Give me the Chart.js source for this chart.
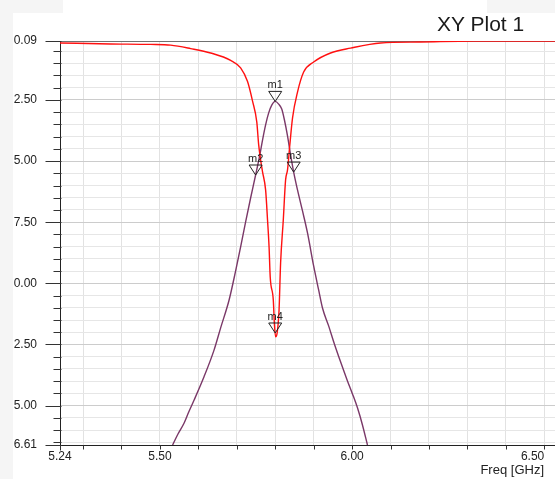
<!DOCTYPE html>
<html>
<head>
<meta charset="utf-8">
<script src="https://cdn.jsdelivr.net/npm/chart.js@4/dist/chart.umd.min.js"></script>
<style>
  html, body { margin: 0; padding: 0; background: #fff; }
  #wrap { position: relative; width: 555px; height: 479px; overflow: hidden; background: #fff; }
  .shade { position: absolute; background: #f5f5f5; }
  #plot-title {
    position: absolute; left: 437px; top: 13px;
    font: 21px/21px "Liberation Sans", Arial, sans-serif; color: #1a1a1a; white-space: nowrap;
  }
  #x-title {
    position: absolute; right: 11px; top: 463px;
    font: 13px/13px "Liberation Sans", Arial, sans-serif; color: #222; white-space: nowrap;
  }
  canvas { position: absolute; left: 0; top: 0; }
</style>
</head>
<body>
<div id="wrap">
  <div class="shade" style="left:0;top:0;width:13px;height:479px"></div>
  <div class="shade" style="left:0;top:0;width:63px;height:13px"></div>
  <div class="shade" style="left:487px;top:0;width:68px;height:13px"></div>
  <canvas id="xyPlot" width="555" height="479"></canvas>
  <div id="plot-title">XY Plot 1</div>
  <div id="x-title">Freq [GHz]</div>
</div>
<script>
// red trace, Freq [GHz] / dB
const redFreq = [5.240, 5.372, 5.476, 5.528, 5.580, 5.632, 5.684, 5.710, 5.728, 5.741, 5.752, 5.757, 5.762, 5.767, 5.775, 5.780, 5.784, 5.787, 5.795, 5.798, 5.801, 5.805, 5.810, 5.814, 5.821, 5.827, 5.832, 5.838, 5.845, 5.858, 5.874, 5.900, 5.944, 5.996, 6.074, 6.178, 6.315, 6.528];
const redDb   = [-0.17, -0.21, -0.23, -0.26, -0.40, -0.58, -0.88, -1.19, -1.75, -2.55, -3.40, -4.34, -4.95, -5.44, -6.18, -7.41, -8.51, -9.74, -10.68, -11.70, -12.19, -12.03, -11.09, -9.17, -7.41, -5.77, -5.36, -4.34, -3.24, -2.18, -1.36, -0.95, -0.58, -0.38, -0.17, -0.13, -0.09, -0.09];

// purple trace
const purpleFreq = [5.533, 5.547, 5.563, 5.575, 5.589, 5.615, 5.641, 5.658, 5.680, 5.697, 5.710, 5.723, 5.736, 5.749, 5.760, 5.767, 5.775, 5.783, 5.791, 5.800, 5.809, 5.817, 5.824, 5.832, 5.840, 5.848, 5.858, 5.871, 5.884, 5.900, 5.913, 5.923, 5.939, 5.954, 5.970, 5.988, 6.001, 6.014, 6.027, 6.040];
const purpleDb   = [-16.61, -16.16, -15.71, -15.26, -14.77, -13.81, -12.72, -11.82, -10.68, -9.49, -8.51, -7.49, -6.51, -5.57, -4.75, -4.14, -3.52, -3.03, -2.71, -2.56, -2.67, -2.87, -3.32, -3.97, -4.75, -5.45, -6.18, -7.04, -7.94, -9.29, -10.27, -11.01, -11.74, -12.48, -13.21, -13.99, -14.52, -15.09, -15.79, -16.61];

// markers
const markerNames = ["m1", "m2", "m3", "m4"];
const markerFreq  = [5.800, 5.749, 5.848, 5.800];
const markerDb    = [-2.56, -5.57, -5.45, -12.03];

// axes
const xTickValues  = [5.24, 5.3, 5.4, 5.5, 5.6, 5.7, 5.8, 5.9, 6.0, 6.1, 6.2, 6.3, 6.4, 6.5];
const xLabelValues = [5.24, 5.5, 6.0, 6.5];
const xTickLabels  = ["5.24", "5.50", "6.00", "6.50"];

const yTickValues = [-0.09, -0.5, -1, -1.5, -2, -2.5, -3, -3.5, -4, -4.5, -5, -5.5, -6, -6.5, -7, -7.5, -8, -8.5, -9, -9.5, -10, -10.5, -11, -11.5, -12, -12.5, -13, -13.5, -14, -14.5, -15, -15.5, -16, -16.5, -16.61];
const yLabelValues = [-0.09, -2.5, -5, -7.5, -10, -12.5, -15, -16.61];
const yTickLabels  = ["0.09", "2.50", "5.00", "7.50", "0.00", "2.50", "5.00", "6.61"];

const FONT = "'Liberation Sans', Arial, sans-serif";
const near = (a, b) => Math.abs(a - b) < 1e-6;
const labelIdx = (vals, v) => vals.findIndex(t => near(t, v));
const toPts = (xs, ys) => xs.map((x, i) => ({ x, y: ys[i] }));

// axis tick marks + x labels, placed from the scales
const axisMarks = {
  id: "axisMarks",
  afterDraw(c) {
    const { ctx, scales: { x, y } } = c;
    ctx.save();
    ctx.strokeStyle = "#333";
    ctx.lineWidth = 1;
    const ax = Math.round(x.left) + 0.5;
    yTickValues.forEach(v => {
      const py = Math.round(y.getPixelForValue(v)) + 0.5;
      const major = labelIdx(yLabelValues, v) >= 0;
      ctx.beginPath();
      ctx.moveTo(major ? ax - 15 : ax - 7, py);
      ctx.lineTo(ax + 1, py);
      ctx.stroke();
    });
    const ay = Math.round(y.bottom) + 0.5;
    xTickValues.forEach((v, i) => {
      const px = Math.round(x.getPixelForValue(v)) + 0.5;
      ctx.beginPath();
      ctx.moveTo(px, ay);
      ctx.lineTo(px, ay + (i === 0 ? 5 : 4));
      ctx.stroke();
    });
    // x labels: centred, the last one ends at its tick (window edge)
    ctx.fillStyle = "#222";
    ctx.font = "12px " + FONT;
    ctx.textBaseline = "top";
    xLabelValues.forEach((v, i) => {
      ctx.textAlign = i === xLabelValues.length - 1 ? "right" : "center";
      ctx.fillText(xTickLabels[i], x.getPixelForValue(v), y.bottom + 6);
    });
    ctx.restore();
  }
};

const markerPlugin = {
  id: "markers",
  afterDatasetsDraw(c) {
    const { ctx, scales: { x, y } } = c;
    ctx.save();
    ctx.lineWidth = 1;
    ctx.strokeStyle = "#222";
    ctx.fillStyle = "#222";
    ctx.font = "11px " + FONT;
    ctx.textAlign = "center";
    ctx.textBaseline = "bottom";
    markerNames.forEach((name, i) => {
      const px = x.getPixelForValue(markerFreq[i]);
      const py = y.getPixelForValue(markerDb[i]);
      ctx.beginPath();
      ctx.moveTo(px, py);
      ctx.lineTo(px - 6.5, py - 10);
      ctx.lineTo(px + 6.5, py - 10);
      ctx.closePath();
      ctx.stroke();
      ctx.fillText(name, px, py - 11);
    });
    ctx.restore();
  }
};

const chart = new Chart(document.getElementById("xyPlot"), {
  type: "line",
  data: {
    datasets: [
      {
        label: "red",
        data: toPts(redFreq, redDb),
        borderColor: "#ff1010",
        borderWidth: 1.4,
        pointRadius: 0,
        cubicInterpolationMode: "monotone",
      },
      {
        label: "purple",
        data: toPts(purpleFreq, purpleDb),
        borderColor: "#7a3868",
        borderWidth: 1.4,
        pointRadius: 0,
        cubicInterpolationMode: "monotone",
      },
    ],
  },
  options: {
    responsive: false,
    animation: false,
    layout: { padding: { top: 41, left: 0, right: 0, bottom: 0 } },
    plugins: {
      legend: { display: false },
      tooltip: { enabled: false },
    },
    scales: {
      x: {
        type: "linear",
        min: 5.24,
        max: 6.528,
        afterBuildTicks: s => { s.ticks = xTickValues.map(v => ({ value: v })); },
        afterFit: s => { s.height = 34; s.paddingLeft = 0; s.paddingRight = 0; },
        ticks: { display: false },
        grid: {
          drawTicks: false,
          color: g => (g.tick && near(g.tick.value, 5.24)) ? "rgba(0,0,0,0)" : "#e2e2e2",
        },
        border: { color: "#222", width: 1 },
      },
      y: {
        min: -16.61,
        max: -0.09,
        afterBuildTicks: s => { s.ticks = yTickValues.map(v => ({ value: v })); },
        afterFit: s => { s.width = 60; },
        ticks: {
          autoSkip: false,
          padding: 23,
          color: "#222",
          font: { family: FONT, size: 12 },
          callback: v => { const i = labelIdx(yLabelValues, v); return i >= 0 ? yTickLabels[i] : ""; },
        },
        grid: {
          drawTicks: false,
          color: g => {
            const v = g.tick ? g.tick.value : 0;
            if (near(v, -16.61)) return "rgba(0,0,0,0)";
            if (near(v, -0.09)) return "#707070";
            return labelIdx(yLabelValues, v) >= 0 ? "#cccccc" : "#e6e6e6";
          },
        },
        border: { color: "#222", width: 1 },
      },
    },
  },
  plugins: [axisMarks, markerPlugin],
});
</script>
</body>
</html>
